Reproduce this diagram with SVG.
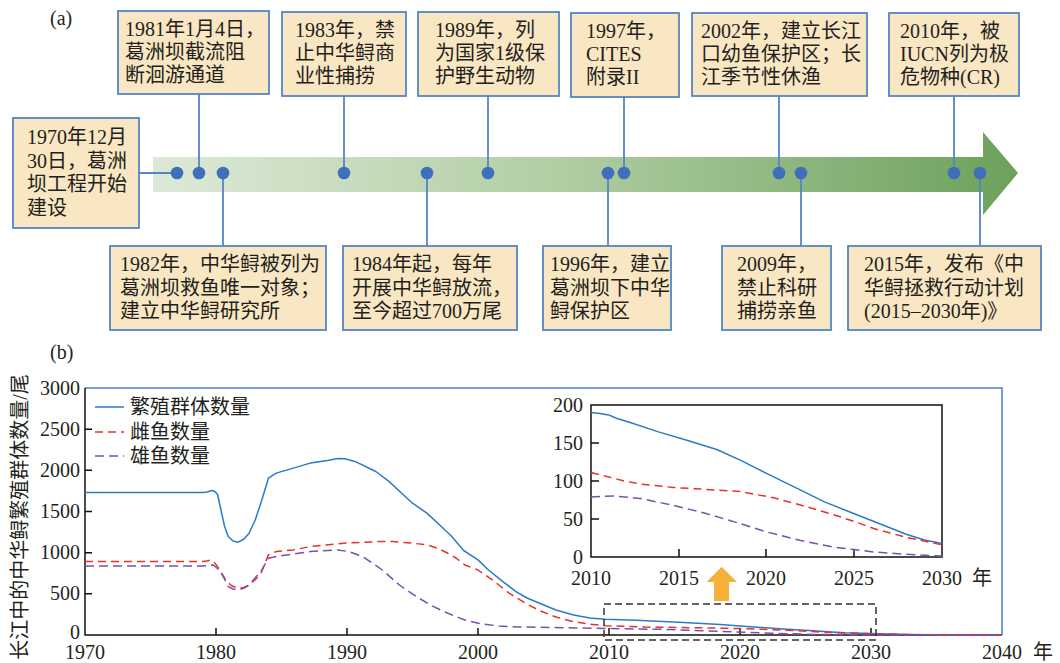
<svg xmlns="http://www.w3.org/2000/svg" width="1060" height="663" viewBox="0 0 1060 663">
<style>
.t{font-family:"Liberation Serif","Noto Sans CJK SC",serif;font-size:20px;fill:#231f20}
.box{fill:#f9e6c2;stroke:#5584c6;stroke-width:1.8}
.con{stroke:#5584c6;stroke-width:1.8;fill:none}
.dot{fill:#3f6fba}
.ax{stroke:#111;stroke-width:1.5;fill:none}
.blue{stroke:#2a7bc6;stroke-width:1.5;fill:none;stroke-linejoin:round}
.red{stroke:#e8302c;stroke-width:1.5;fill:none;stroke-dasharray:8 5;stroke-linejoin:round}
.pur{stroke:#7a4fae;stroke-width:1.5;fill:none;stroke-dasharray:9 5;stroke-linejoin:round}
</style>
<defs>
<linearGradient id="g" gradientUnits="userSpaceOnUse" x1="153" y1="0" x2="1018" y2="0">
<stop offset="0" stop-color="#dde9d8"/>
<stop offset="0.45" stop-color="#b3cfa6"/>
<stop offset="1" stop-color="#6ca15b"/>
</linearGradient>
</defs>
<rect width="1060" height="663" fill="#fff"/>
<text class="t" x="50" y="25" font-size="19">(a)</text>
<g id="timeline">
<polygon points="153,157 983,157 983,132 1018,173 983,215 983,192 153,192" fill="url(#g)"/>
</g>
<g id="connectors">
<line class="con" x1="139" y1="173" x2="177" y2="173"/>
<line class="con" x1="199" y1="94" x2="199" y2="173"/>
<line class="con" x1="344" y1="96" x2="344" y2="173"/>
<line class="con" x1="488" y1="96" x2="488" y2="173"/>
<line class="con" x1="624" y1="97" x2="624" y2="173"/>
<line class="con" x1="779" y1="96" x2="779" y2="173"/>
<line class="con" x1="954" y1="96" x2="954" y2="173"/>
<line class="con" x1="223" y1="173" x2="223" y2="246"/>
<line class="con" x1="427" y1="173" x2="427" y2="246"/>
<line class="con" x1="608" y1="173" x2="608" y2="246"/>
<line class="con" x1="801" y1="173" x2="801" y2="246"/>
<line class="con" x1="980" y1="173" x2="980" y2="246"/>
</g>
<g id="dots">
<circle class="dot" cx="177" cy="173" r="6.3"/>
<circle class="dot" cx="199" cy="173" r="6.3"/>
<circle class="dot" cx="223" cy="173" r="6.3"/>
<circle class="dot" cx="344" cy="173" r="6.3"/>
<circle class="dot" cx="427" cy="173" r="6.3"/>
<circle class="dot" cx="488" cy="173" r="6.3"/>
<circle class="dot" cx="608" cy="173" r="6.3"/>
<circle class="dot" cx="624" cy="173" r="6.3"/>
<circle class="dot" cx="779" cy="173" r="6.3"/>
<circle class="dot" cx="801" cy="173" r="6.3"/>
<circle class="dot" cx="954" cy="173" r="6.3"/>
<circle class="dot" cx="980" cy="173" r="6.3"/>
</g>
<g id="n1970"><rect class="box" x="13" y="118" width="126" height="110"/>
<text class="t" x="27" y="144">1970年12月</text><text class="t" x="27" y="168">30日，葛洲</text><text class="t" x="27" y="191">坝工程开始</text><text class="t" x="27" y="215">建设</text></g>
<g id="n1981"><rect class="box" x="118" y="11" width="151" height="83"/>
<text class="t" x="125" y="36">1981年1月4日，</text><text class="t" x="125" y="59">葛洲坝截流阻</text><text class="t" x="125" y="82">断洄游通道</text></g>
<g id="n1983"><rect class="box" x="282" y="12" width="124" height="84"/>
<text class="t" x="295" y="37">1983年，禁</text><text class="t" x="295" y="60">止中华鲟商</text><text class="t" x="295" y="83">业性捕捞</text></g>
<g id="n1989"><rect class="box" x="418" y="12" width="141" height="84"/>
<text class="t" x="435" y="37">1989年，列</text><text class="t" x="435" y="60">为国家1级保</text><text class="t" x="435" y="83">护野生动物</text></g>
<g id="n1997"><rect class="box" x="571" y="13" width="108" height="84"/>
<text class="t" x="586" y="38">1997年，</text><text class="t" x="586" y="61">CITES</text><text class="t" x="586" y="84">附录II</text></g>
<g id="n2002"><rect class="box" x="692" y="13" width="175" height="83"/>
<text class="t" x="701" y="38">2002年，建立长江</text><text class="t" x="701" y="61">口幼鱼保护区；长</text><text class="t" x="701" y="84">江季节性休渔</text></g>
<g id="n2010"><rect class="box" x="889" y="13" width="130" height="83"/>
<text class="t" x="900" y="38">2010年，被</text><text class="t" x="900" y="61">IUCN列为极</text><text class="t" x="900" y="84">危物种(CR)</text></g>
<g id="n1982"><rect class="box" x="110" y="246" width="216" height="84"/>
<text class="t" x="120" y="271">1982年，中华鲟被列为</text><text class="t" x="120" y="295">葛洲坝救鱼唯一对象；</text><text class="t" x="120" y="318">建立中华鲟研究所</text></g>
<g id="n1984"><rect class="box" x="343" y="246" width="174" height="84"/>
<text class="t" x="352" y="271">1984年起，每年</text><text class="t" x="352" y="295">开展中华鲟放流，</text><text class="t" x="352" y="318">至今超过700万尾</text></g>
<g id="n1996"><rect class="box" x="543" y="246" width="128" height="84"/>
<text class="t" x="550" y="271">1996年，建立</text><text class="t" x="550" y="295">葛洲坝下中华</text><text class="t" x="550" y="318">鲟保护区</text></g>
<g id="n2009"><rect class="box" x="722" y="246" width="109" height="84"/>
<text class="t" x="737" y="271">2009年，</text><text class="t" x="737" y="295">禁止科研</text><text class="t" x="737" y="318">捕捞亲鱼</text></g>
<g id="n2015"><rect class="box" x="848" y="246" width="193" height="84"/>
<text class="t" x="864" y="271">2015年，发布《中</text><text class="t" x="864" y="295">华鲟拯救行动计划</text><text class="t" x="864" y="318">(2015–2030年)》</text></g>

<g id="chart">
<text class="t" x="50" y="359" font-size="19">(b)</text>
<polyline points="85,388 1002,388 1002,635" stroke="#4a80c5" stroke-width="1.5" fill="none"/>
<polyline class="ax" points="85,388 85,635 1002,635"/>
<path class="ax" d="M85,429.2h7M85,470.3h7M85,511.5h7M85,552.7h7M85,593.8h7M216,635v-7M347,635v-7M478,635v-7M609,635v-7M740,635v-7M871,635v-7"/>
<g class="t" font-size="19.5" text-anchor="end">
<text x="80" y="395">3000</text><text x="80" y="436">2500</text><text x="80" y="477">2000</text><text x="80" y="518">1500</text><text x="80" y="559">1000</text><text x="80" y="600">500</text><text x="80" y="639">0</text>
</g>
<g class="t" font-size="19.5" text-anchor="middle">
<text x="85" y="659">1970</text><text x="216" y="659">1980</text><text x="347" y="659">1990</text><text x="478" y="659">2000</text><text x="609" y="659">2010</text><text x="740" y="659">2020</text><text x="871" y="659">2030</text><text x="1002" y="659">2040</text>
</g>
<text class="t" x="1043" y="659" font-size="19.5" text-anchor="middle">年</text>
<text class="t" font-size="21" text-anchor="middle" transform="translate(20,517) rotate(-90)" y="7">长江中的中华鲟繁殖群体数量/尾</text>
<line class="blue" x1="95" y1="407" x2="124" y2="407"/>
<line class="red" x1="95" y1="432" x2="124" y2="432"/>
<line class="pur" x1="95" y1="456" x2="124" y2="456"/>
<text class="t" x="130" y="414" font-size="19.5">繁殖群体数量</text>
<text class="t" x="130" y="439" font-size="19.5">雌鱼数量</text>
<text class="t" x="130" y="463" font-size="19.5">雄鱼数量</text>
<polyline class="blue" points="85,492.6 202.9,492.6 207,492 212.1,490.5 215.5,492 217.7,495 221.6,513.2 224.5,526 228.2,536.5 233,541 238.3,542.2 244,539 249.1,533.2 255.3,519.8 261.9,499.8 268.4,478.2 276.3,473.1 293.3,468.1 310.3,463.1 327.4,460.5 337.8,458.4 345,458.8 354.9,461.4 375.8,471.5 388.9,481.4 403.3,494.8 412.5,503.2 426.9,513.1 441.3,526.5 451.8,536.5 463.6,550.5 478,559.9 488.5,570 502.9,581.6 516,591.6 527,598 539.6,603.3 556,610 573.6,615 590,618 605.1,619.2 636.5,620.3 683.7,622.5 720.4,624.5 740,626 761,627.4 783.2,629 805.5,630.3 827.8,631.7 844.8,632.8 871,633.6 910.3,634.6 949.6,635 1002,635"/>
<polyline class="red" points="85,561.6 202.9,561.6 207,561 210.8,559.9 214,562 217.7,566.6 222,574 226.8,581.6 232,586 238.3,588.2 244,587.5 249.1,585 255,580 260.8,573.3 264,566 268.4,554.9 276.3,551.5 293.3,549.9 310.3,546.6 344.4,543.2 378.4,541.6 392.9,541.6 412.5,543.2 426.9,544.8 437,548 447.9,553.2 456,558 464.9,565 478,570 492.4,579.9 509.4,593.3 525,603 539.6,610.6 556,617 573.6,621.7 590,624.3 605.1,625.7 645.7,627.1 695.5,627.7 745.2,628.6 770.1,629.6 795,630.6 819.9,632 844.8,632.9 871,633.7 910.3,634.6 949.6,635 1002,635"/>
<polyline class="pur" points="85,565.9 202.9,565.9 208,565.5 213.4,565 217,568 221.6,573.3 225,580 228.2,586.6 233,589 238.3,590 244,588 249.1,585 255,578 261.9,570 265,564 268.4,558.3 276.3,556.5 310.3,551.5 337.8,549.9 348.3,551.5 357,554.5 365.3,558.3 382.4,570 399.4,585 416.4,596.6 433.5,606.6 447.9,613.3 464.9,620 481.9,624 499,626 520,627 539.6,627.3 575,628 609,628.5 670.6,629.5 720.4,631.4 770.1,633.2 819.9,634.5 871,634.9 1002,635"/>
<rect x="604" y="604" width="272" height="36" fill="none" stroke="#333" stroke-width="1.5" stroke-dasharray="7 4"/>
<polygon points="721.7,566.7 737,582 729,582 729,601 714,601 714,582 706.5,582" fill="#f5b03a"/>
</g>
<g id="inset">
<rect x="591" y="405" width="351" height="152" fill="#fff" stroke="#111" stroke-width="1.5"/>
<path class="ax" d="M591,443h8M591,481h8M591,519h8M679,557v-8M766,557v-8M854,557v-8"/>
<g class="t" font-size="19.5" text-anchor="end">
<text x="583" y="412">200</text><text x="583" y="450">150</text><text x="583" y="488">100</text><text x="583" y="526">50</text><text x="583" y="564">0</text>
</g>
<g class="t" font-size="19.5" text-anchor="middle">
<text x="591" y="585">2010</text><text x="679" y="585">2015</text><text x="766" y="585">2020</text><text x="854" y="585">2025</text><text x="942" y="585">2030</text>
</g>
<text class="t" x="982" y="585" font-size="19.5" text-anchor="middle">年</text>
<polyline class="blue" points="591,412.6 600,413.5 608.6,414.9 617,418.5 627.9,421.7 657.7,431.6 691,441.5 717.4,449.8 740.2,460.1 766.5,473.4 794.6,487.1 824.4,501.9 854.3,513.7 884.1,525.5 906.9,534.5 924.5,540 942,543.4"/>
<polyline class="red" points="591,472.6 606.8,476.4 624.3,481 640.1,484 673.5,487.5 706.8,489.4 740.2,491.6 773.5,497.7 806.9,506.8 840.2,516.8 854.3,521.5 873.6,528.5 906.9,537.5 942,544.8"/>
<polyline class="pur" points="591,497 613.8,495.9 640.1,498.5 673.5,505.3 706.8,513.7 740.2,523.6 766.5,531.9 799.8,540.3 833.2,547 854.3,549.6 873.6,552 906.9,554.3 942,556"/>
</g>
</svg>
